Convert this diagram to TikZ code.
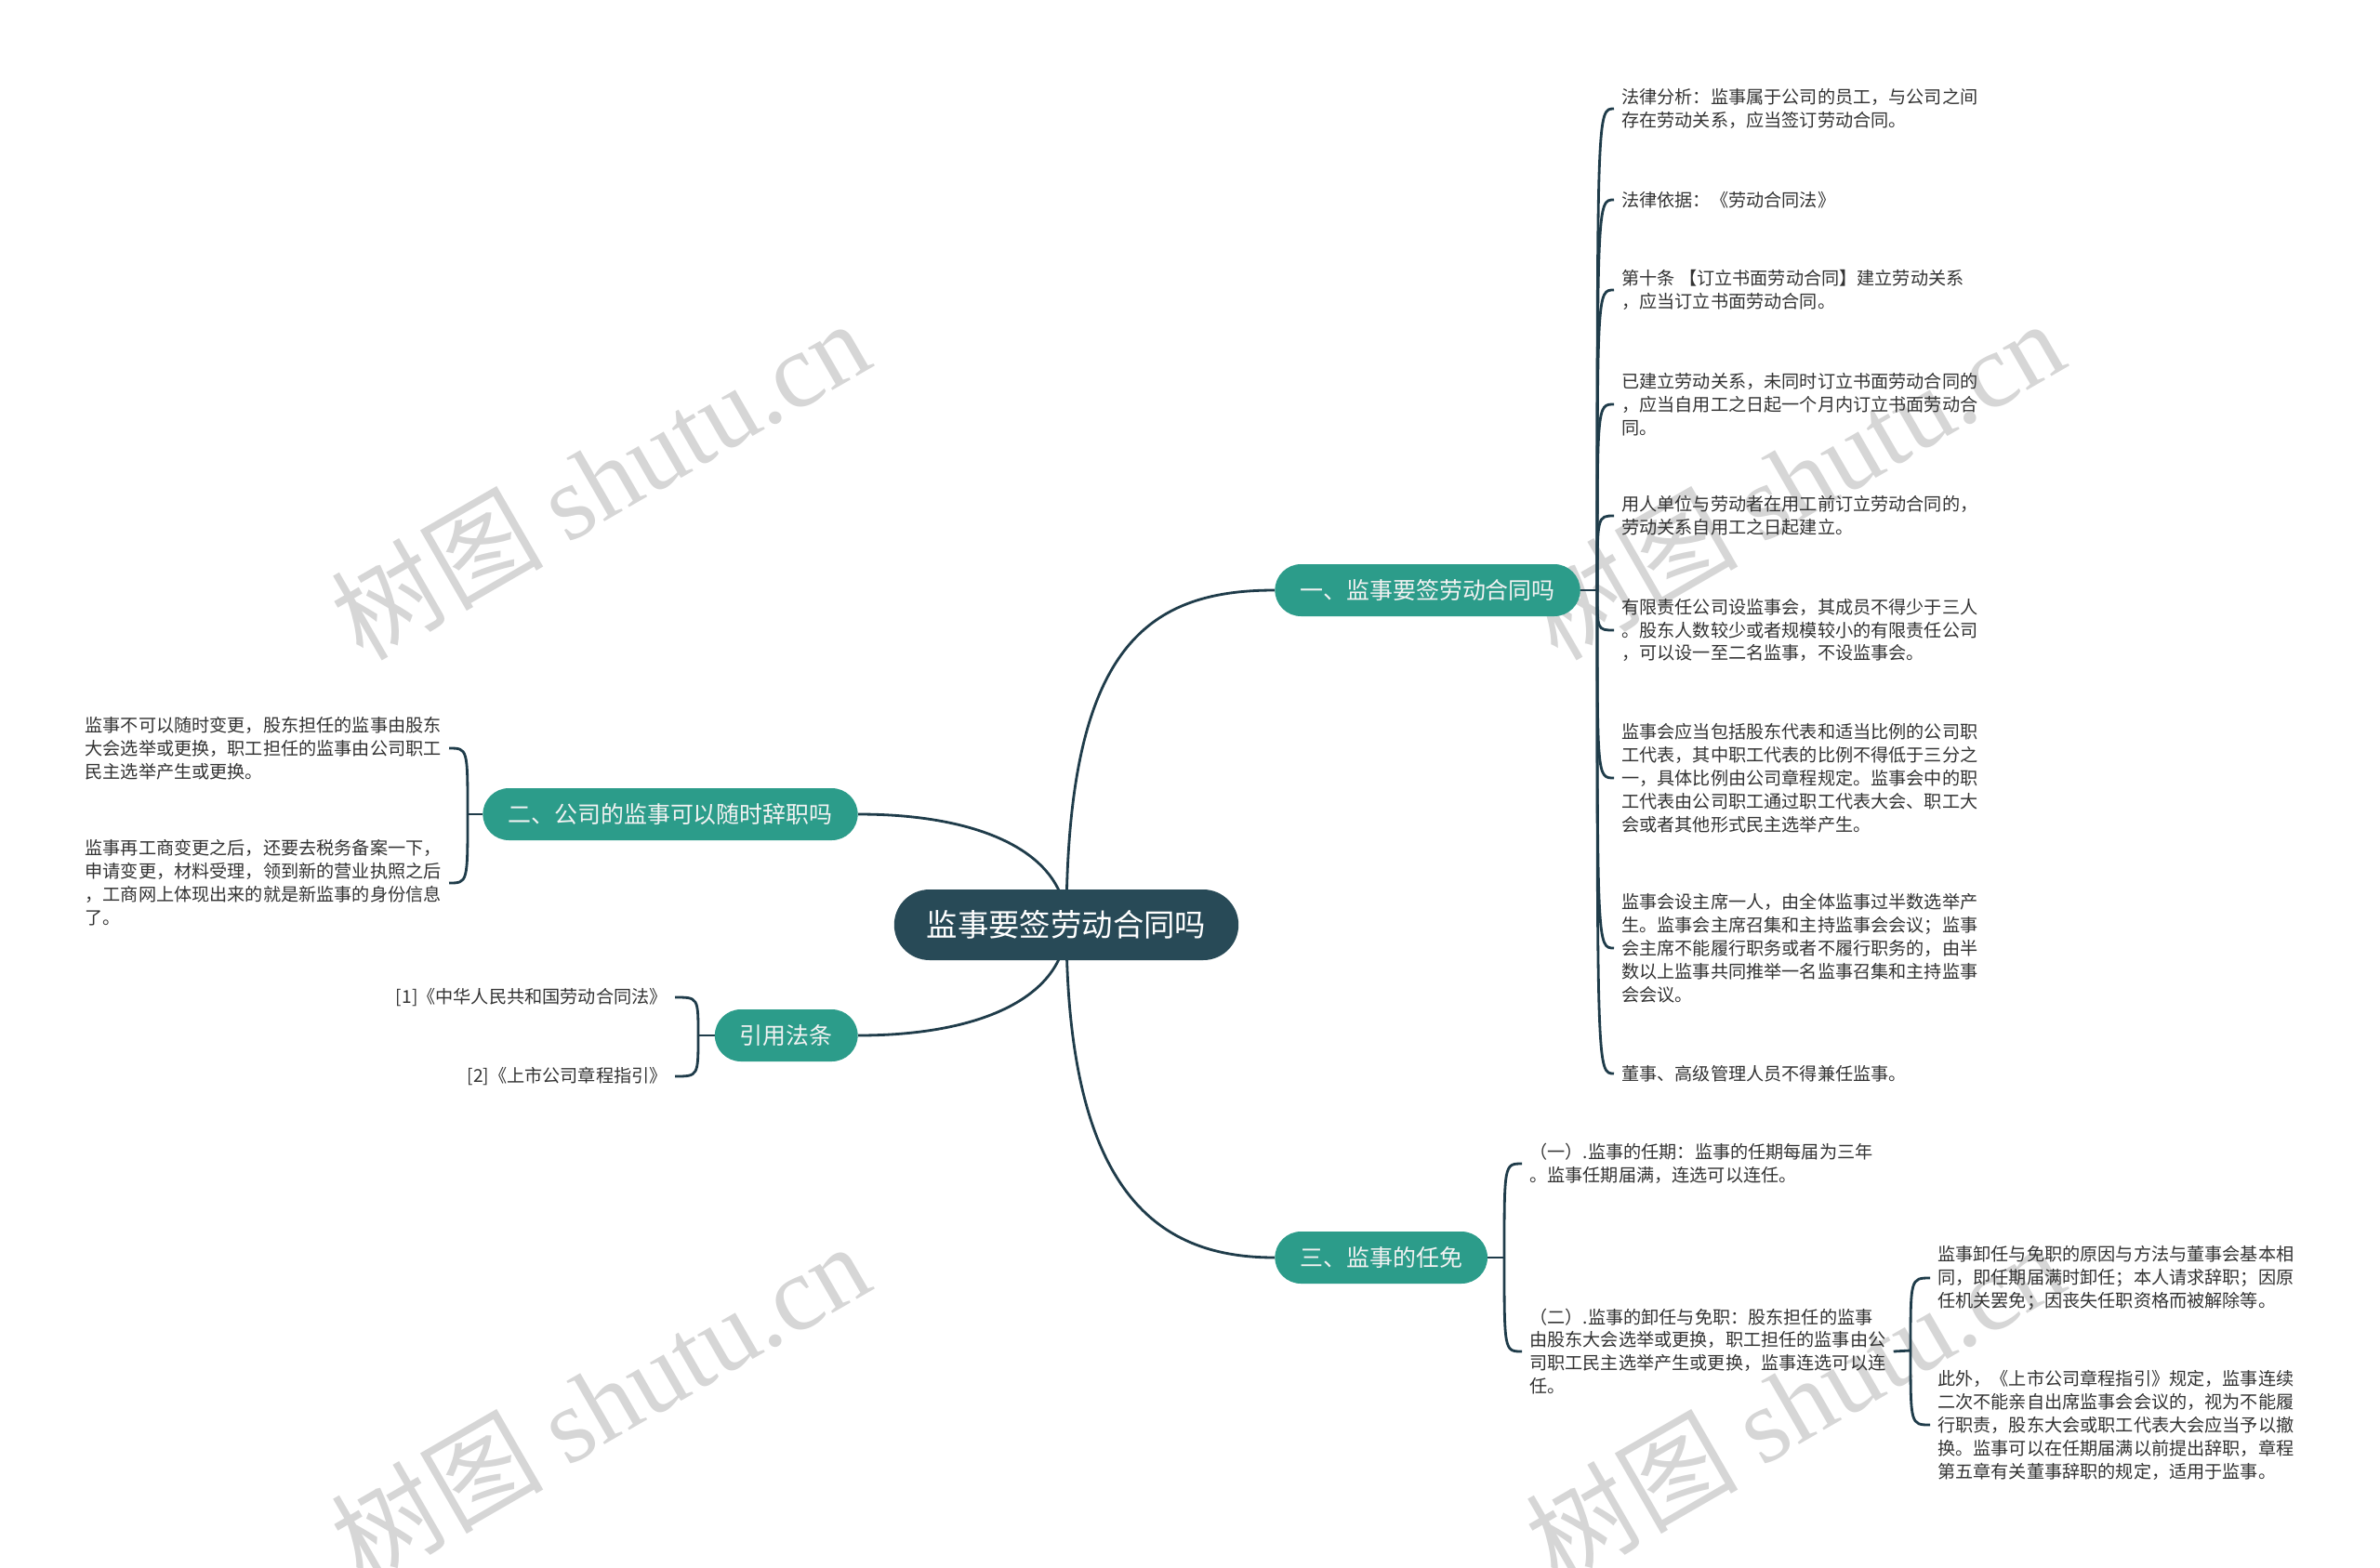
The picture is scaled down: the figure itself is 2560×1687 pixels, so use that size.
\documentclass[tikz,border=0pt]{standalone}
\usepackage{fontspec}
\setmainfont{Noto Sans CJK SC}
\newfontfamily\wmserif{Liberation Serif}
\usepackage{xcolor}
\usetikzlibrary{calc, backgrounds}
\definecolor{rootfill}{HTML}{284A57}
\definecolor{branchfill}{HTML}{2C9C8A}
\definecolor{linkcol}{HTML}{1F3C4A}
\definecolor{leaftext}{HTML}{333333}
\definecolor{markgray}{HTML}{D6D6D6}

\begin{document}
\begin{tikzpicture}[x=0.02cm, y=-0.02cm,
    rootnode/.style={rectangle, rounded corners=0.76cm, fill=rootfill, text=white, minimum height=1.52cm, inner xsep=0.7cm, font=\fontsize{19pt}{23pt}\selectfont},
    branchnode/.style={rectangle, rounded corners=0.56cm, fill=branchfill, text=white!95!black, minimum height=1.12cm, inner xsep=0.54cm, font=\fontsize{14.2pt}{17pt}\selectfont},
    leafnode/.style={align=left, text=leaftext, inner xsep=0.16cm, inner ysep=0pt, font=\fontsize{10.9pt}{14.2pt}\selectfont},
    linkstyle/.style={draw=linkcol, line width=1.6pt},
    watermark/.style={text=markgray, rotate=30, font=\fontsize{65pt}{65pt}\selectfont}]
  \useasboundingbox (0,0) rectangle (2560,1687);

  \node[rootnode] (root) at (1147,995) {监事要签劳动合同吗};
  \node[branchnode, anchor=west] (b1) at (1371,635) {一、监事要签劳动合同吗};
  \node[branchnode, anchor=east] (b2) at (923,876) {二、公司的监事可以随时辞职吗};
  \node[branchnode, anchor=west] (b3) at (1371,1353) {三、监事的任免};
  \node[branchnode, anchor=east] (b4) at (923,1114) {引用法条};

  \coordinate (j1) at (1718,635);
  \coordinate (j2) at (503,876);
  \coordinate (j3) at (1618,1353);
  \coordinate (j4) at (751,1114);
  \coordinate (j32) at (2055,1453);

  \node[leafnode, anchor=west] (n11) at (1736,117) {法律分析：监事属于公司的员工，与公司之间\\存在劳动关系，应当签订劳动合同。};
  \node[leafnode, anchor=west] (n12) at (1736,215) {法律依据：《劳动合同法》};
  \node[leafnode, anchor=west] (n13) at (1736,312) {第十条 【订立书面劳动合同】建立劳动关系\\，应当订立书面劳动合同。};
  \node[leafnode, anchor=west] (n14) at (1736,435) {已建立劳动关系，未同时订立书面劳动合同的\\，应当自用工之日起一个月内订立书面劳动合\\同。};
  \node[leafnode, anchor=west] (n15) at (1736,555) {用人单位与劳动者在用工前订立劳动合同的，\\劳动关系自用工之日起建立。};
  \node[leafnode, anchor=west] (n16) at (1736,678) {有限责任公司设监事会，其成员不得少于三人\\。股东人数较少或者规模较小的有限责任公司\\，可以设一至二名监事，不设监事会。};
  \node[leafnode, anchor=west] (n17) at (1736,837) {监事会应当包括股东代表和适当比例的公司职\\工代表，其中职工代表的比例不得低于三分之\\一，具体比例由公司章程规定。监事会中的职\\工代表由公司职工通过职工代表大会、职工大\\会或者其他形式民主选举产生。};
  \node[leafnode, anchor=west] (n18) at (1736,1020) {监事会设主席一人，由全体监事过半数选举产\\生。监事会主席召集和主持监事会会议；监事\\会主席不能履行职务或者不履行职务的，由半\\数以上监事共同推举一名监事召集和主持监事\\会会议。};
  \node[leafnode, anchor=west] (n19) at (1736,1155) {董事、高级管理人员不得兼任监事。};

  \node[leafnode, anchor=east] (n21) at (483,805) {监事不可以随时变更，股东担任的监事由股东\\大会选举或更换，职工担任的监事由公司职工\\民主选举产生或更换。};
  \node[leafnode, anchor=east] (n22) at (483,950) {监事再工商变更之后，还要去税务备案一下，\\申请变更，材料受理，领到新的营业执照之后\\，工商网上体现出来的就是新监事的身份信息\\了。};

  \node[leafnode, anchor=west] (n31) at (1637,1252) {（一）.监事的任期：监事的任期每届为三年\\。监事任期届满，连选可以连任。};
  \node[leafnode, anchor=west] (n32) at (1637,1454) {（二）.监事的卸任与免职：股东担任的监事\\由股东大会选举或更换，职工担任的监事由公\\司职工民主选举产生或更换，监事连选可以连\\任。};
  \node[leafnode, anchor=west] (n321) at (2076,1375) {监事卸任与免职的原因与方法与董事会基本相\\同，即任期届满时卸任；本人请求辞职；因原\\任机关罢免；因丧失任职资格而被解除等。};
  \node[leafnode, anchor=west] (n322) at (2076,1533) {此外，《上市公司章程指引》规定，监事连续\\二次不能亲自出席监事会会议的，视为不能履\\行职责，股东大会或职工代表大会应当予以撤\\换。监事可以在任期届满以前提出辞职，章程\\第五章有关董事辞职的规定，适用于监事。};

  \node[leafnode, anchor=east] (n41) at (726,1073) {[1]《中华人民共和国劳动合同法》};
  \node[leafnode, anchor=east] (n42) at (726,1158) {[2]《上市公司章程指引》};

  \begin{scope}[on background layer]
    \fill[white] (0,0) rectangle (2560,1687);
    \foreach \x/\y [count=\i] in {645/515, 1930/515, 645/1508, 1930/1508}
      \node[watermark] (wm\i) at (\x,\y) {树图 {\wmserif shutu.cn}};
    \draw[linkstyle] (root.center) .. controls +(0,-295) and +(-141,0) .. (b1.west);
    \draw[linkstyle] (root.center) .. controls +(0,-75) and +(137,0) .. (b2.east);
    \draw[linkstyle] (root.center) .. controls +(0,295) and +(-121,0) .. (b3.west);
    \draw[linkstyle] (root.center) .. controls +(0,75) and +(137,0) .. (b4.east);
    \draw[linkstyle] (b1.east) -- (j1);
    \draw[linkstyle] (b2.west) -- (j2);
    \draw[linkstyle] (b3.east) -- (j3);
    \draw[linkstyle] (b4.west) -- (j4);
    \draw[linkstyle] (n32.east) -- (j32);
    \foreach \n in {n11,n12,n13,n14,n15,n16,n17,n18,n19}
      \draw[linkstyle] (j1) .. controls (j1 |- \n.west) .. (\n.west);
    \foreach \n in {n21,n22}
      \draw[linkstyle] (j2) .. controls (j2 |- \n.east) .. (\n.east);
    \foreach \n in {n31,n32}
      \draw[linkstyle] (j3) .. controls (j3 |- \n.west) .. (\n.west);
    \foreach \n in {n41,n42}
      \draw[linkstyle] (j4) .. controls (j4 |- \n.east) .. (\n.east);
    \foreach \n in {n321,n322}
      \draw[linkstyle] (j32) .. controls (j32 |- \n.west) .. (\n.west);
  \end{scope}
\end{tikzpicture}
\end{document}
